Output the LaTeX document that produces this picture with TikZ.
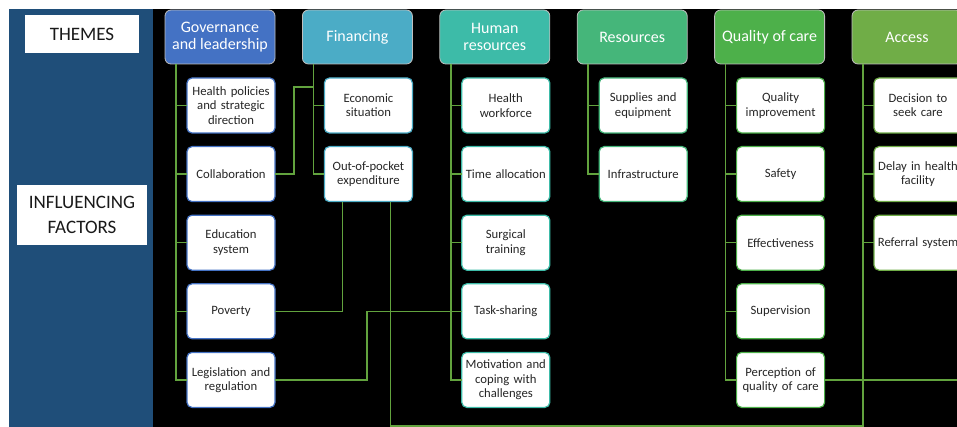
\documentclass[tikz,border=0pt]{standalone}
\usepackage{fontspec}
\setmainfont{Carlito}
\usetikzlibrary{
positioning
}
\definecolor{panel}{HTML}{1F4E79}
\definecolor{govern}{HTML}{4472C4}
\definecolor{finance}{HTML}{4BACC6}
\definecolor{human}{HTML}{3DBBA8}
\definecolor{resource}{HTML}{45B67A}
\definecolor{quality}{HTML}{4DB04A}
\definecolor{access}{HTML}{70AD47}
\definecolor{branch}{HTML}{62A33E}

\begin{document}
\begin{tikzpicture}[x=1pt,y=-1pt,
  label box/.style={fill=white,align=center,text=black!90,font=\fontsize{19}{25.5}\selectfont},
  theme/.style={fill=#1,draw=black!25,line width=0.8pt,outer sep=0pt,rounded corners=6pt,text=white,minimum width=110pt,minimum height=54pt,inner sep=2pt,align=center,font=\fontsize{16}{17.5}\selectfont},
  factor/.style={draw=#1,fill=white,line width=1.2pt,outer sep=0pt,rounded corners=5pt,text width=84pt,inner sep=2pt,minimum height=55pt,align=center,text=black!85,font=\fontsize{12.7}{14.3}\selectfont},
  link/.style={draw,branch,line width=1.6pt},
  tree/.style={link,to path={|- (\tikztotarget)}}]
      \useasboundingbox (0,0) rectangle (957,427);
      \clip (0,0) rectangle (957,427);
      \fill[white] (0,0) rectangle (957,427);
      \fill[panel] (9,9) rectangle (153,427);
      \fill[black] (153,9) rectangle (957,427);
      \node[label box,minimum width=114pt,minimum height=38pt] (themes) at (82,34) {THEMES};
      \node[label box,minimum width=130pt,minimum height=60pt] (factors) at (82,215) {INFLUENCING\\FACTORS};
      % themes along the top
      \node[theme=govern] (gov) at (220,37) {Governance\\and leadership};
      \node[theme=finance,right=27.4pt of gov] (fin) {Financing};
      \node[theme=human,right=27.4pt of fin] (hum) {Human\\resources};
      \node[theme=resource,right=27.4pt of hum] (res) {Resources};
      \node[theme=quality,right=27.4pt of res] (qual) {Quality of care};
      \node[theme=access,right=27.4pt of qual] (acc) {Access};
      % influencing factors
      \node[factor=govern,below=14pt of gov,xshift=11pt] (policy) {Health policies\\and strategic\\direction};
      \node[factor=govern,below=13.6pt of policy] (collab) {Collaboration};
      \node[factor=govern,below=13.6pt of collab] (educ) {Education\\system};
      \node[factor=govern,below=13.6pt of educ] (poverty) {Poverty};
      \node[factor=govern,below=13.6pt of poverty] (legis) {Legislation and\\regulation};
      \node[factor=finance,below=14pt of fin,xshift=11pt] (econ) {Economic\\situation};
      \node[factor=finance,below=13.6pt of econ] (pocket) {Out-of-pocket\\expenditure};
      \node[factor=human,below=14pt of hum,xshift=11pt] (workforce) {Health\\workforce};
      \node[factor=human,below=13.6pt of workforce] (timealloc) {Time allocation};
      \node[factor=human,below=13.6pt of timealloc] (surgical) {Surgical\\training};
      \node[factor=human,below=13.6pt of surgical] (tasksh) {Task-sharing};
      \node[factor=human,below=13.6pt of tasksh] (motiv) {Motivation and\\coping with\\challenges};
      \node[factor=resource,below=14pt of res,xshift=11pt] (supplies) {Supplies and\\equipment};
      \node[factor=resource,below=13.6pt of supplies] (infra) {Infrastructure};
      \node[factor=quality,below=14pt of qual,xshift=11pt] (qimprove) {Quality\\improvement};
      \node[factor=quality,below=13.6pt of qimprove] (safety) {Safety};
      \node[factor=quality,below=13.6pt of safety] (effect) {Effectiveness};
      \node[factor=quality,below=13.6pt of effect] (superv) {Supervision};
      \node[factor=quality,below=13.6pt of superv] (percept) {Perception of\\quality of care};
      \node[factor=access,below=14pt of acc,xshift=11pt] (decision) {Decision to\\seek care};
      \node[factor=access,below=13.6pt of decision] (delay) {Delay in health\\facility};
      \node[factor=access,below=13.6pt of delay] (referral) {Referral system};
      \coordinate (govt) at ([xshift=11pt]gov.south west);
      \coordinate (fint) at ([xshift=11pt]fin.south west);
      \coordinate (humt) at ([xshift=11pt]hum.south west);
      \coordinate (rest) at ([xshift=11pt]res.south west);
      \coordinate (qualt) at ([xshift=11pt]qual.south west);
      \coordinate (acct) at ([xshift=11pt]acc.south west);
      \coordinate (rim) at (957,0);
         \path (govt) edge[tree] (policy) edge[tree] (collab) edge[tree] (educ) edge[tree] (poverty) edge[tree] (legis);
         \path (fint) edge[tree] (econ) edge[tree] (pocket);
         \path (humt) edge[tree] (workforce) edge[tree] (timealloc) edge[tree] (surgical) edge[tree] (tasksh) edge[tree] (motiv);
         \path (rest) edge[tree] (supplies) edge[tree] (infra);
         \path (qualt) edge[tree] (qimprove) edge[tree] (safety) edge[tree] (effect) edge[tree] (superv) edge[tree] (percept);
         \path (acct) edge[tree] (decision) edge[tree] (delay) edge[tree] (referral);
         % links across themes
         \draw[link] (collab.east) -- ++(19,0) |- ([yshift=-23pt]fint);
         \draw[link] (poverty.east) -| ([xshift=-26pt]pocket.south);
         \draw[link] ([xshift=22pt]pocket.south) |- (acct |- 0,426) -- (acct);
         \draw[link] (legis.east) -- ++(92,0) |- (tasksh);
         \draw[link] (percept.east) -- (percept.east -| rim);
    \end{tikzpicture}
\end{document}
